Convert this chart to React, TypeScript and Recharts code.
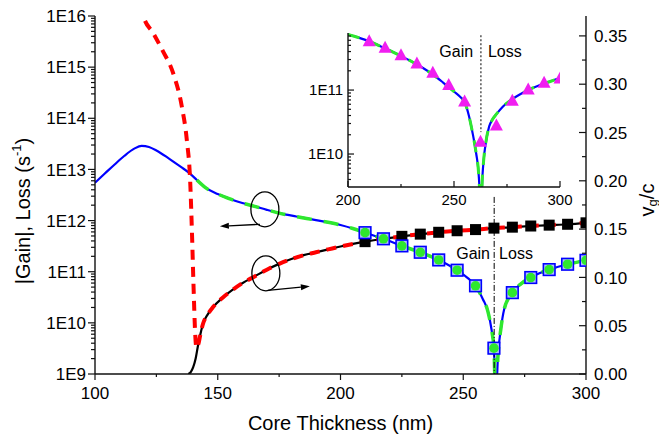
import React from "react";
import {
  LineChart,
  Line,
  XAxis,
  YAxis,
  ReferenceDot,
  ReferenceLine,
  Label,
} from "recharts";

const FONT = "'Liberation Sans', Arial, sans-serif";

// |gain| of the mode, left axis (log)
const gainX = [100, 104, 108, 112, 116, 119, 122, 125, 130, 135, 138.7, 141.5, 145, 150, 155, 160, 165, 170, 175, 182, 190, 200, 205, 210, 217.5, 225, 232.5, 240, 247.5, 252, 255, 258, 260, 261.5, 262.5, 263.2, 264.2, 265.3, 266.7, 270, 273.5, 277.5, 281, 285, 292.5, 300];
const gainY = [5.5e12, 8.3e12, 1.25e13, 1.85e13, 2.55e13, 2.9e13, 2.75e13, 2.35e13, 1.65e13, 1.12e13, 8.3e12, 6.2e12, 4.4e12, 3.3e12, 2.65e12, 2.2e12, 1.9e12, 1.62e12, 1.4e12, 1.2e12, 1.02e12, 8.2e11, 7e11, 5.8e11, 4.4e11, 3.2e11, 2.4e11, 1.7e11, 1.07e11, 7.4e10, 5.3e10, 2.9e10, 1.7e10, 7.5e9, 3.2e9, 3e8, 2.5e9, 7.5e9, 1.86e10, 3.9e10, 5.8e10, 7.7e10, 9.3e10, 1.1e11, 1.4e11, 1.67e11];
const greenFrom = 141.5;

// group velocity vg/c, right axis
const vgX = [138, 139, 140, 141, 142, 143, 144, 146, 148, 152, 156, 160, 165, 170, 175, 180, 185, 190, 195, 200, 210, 217.5, 225, 232.5, 240, 247.5, 255, 262.5, 270, 277.5, 285, 292.5, 300];
const vgV = [0, 0.002, 0.007, 0.016, 0.03, 0.042, 0.052, 0.062, 0.069, 0.079, 0.087, 0.094, 0.101, 0.108, 0.114, 0.119, 0.123, 0.126, 0.129, 0.132, 0.137, 0.14, 0.1425, 0.1448, 0.1467, 0.1483, 0.1495, 0.151, 0.152, 0.1532, 0.1541, 0.155, 0.1565];

// red dashed branch that diverges below cutoff
const redX = [117.5, 119.7, 123.7, 127.5, 131.8, 135.4, 137.4, 138.8, 139.5, 140.1, 140.8, 141.3];
const redV = [0.4, 0.3706, 0.353, 0.335, 0.3116, 0.2764, 0.2422, 0.1977, 0.146, 0.094, 0.0424, 0.027];

const markX = [210, 217.5, 225, 232.5, 240, 247.5, 255, 262.5, 270, 277.5, 285, 292.5, 300];

// inset
const insX = [200, 205, 210, 215, 220, 225, 230, 235, 240, 245, 250, 253, 255, 257, 258.8, 260.5, 261.6, 262.2, 262.7, 263.2, 264, 265, 266.6, 268, 270, 273, 277.5, 281, 285, 290, 295, 300];
const insY = [7.4e11, 6.6e11, 5.8e11, 4.9e11, 4.1e11, 3.4e11, 2.8e11, 2.25e11, 1.75e11, 1.3e11, 9.5e10, 7.8e10, 6.5e10, 4e10, 2.1e10, 1e10, 5e9, 2e9, 3e8, 3e9, 8e9, 1.5e10, 2.7e10, 3.4e10, 4.2e10, 5.5e10, 7.2e10, 8.5e10, 1e11, 1.18e11, 1.35e11, 1.55e11];
const triY = [5.8e11, 4.6e11, 3.5e11, 2.6e11, 1.86e11, 1.2e11, 6.6e10, 1.55e10, 2.8e10, 6.8e10, 1.02e11, 1.3e11, 1.52e11];

// axis ticks
const xMajor = [100, 150, 200, 250, 300];
const xTicks = [100, 125, 150, 175, 200, 225, 250, 275, 300];
const leftMajor = [1e9, 1e10, 1e11, 1e12, 1e13, 1e14, 1e15, 1e16];
const rightMajor = [0, 0.05, 0.1, 0.15, 0.2, 0.25, 0.3, 0.35];
const rightTicks = [0, 0.025, 0.05, 0.075, 0.1, 0.125, 0.15, 0.175, 0.2, 0.225, 0.25, 0.275, 0.3, 0.325, 0.35];
const insXMajor = [200, 250, 300];
const insXTicks = [200, 225, 250, 275, 300];
const insMajor = [1e10, 1e11];

const logMinors = (majors: number[], lo: number, hi: number) => {
  const out: number[] = [];
  majors.concat([majors[0] / 10]).forEach((m) => {
    for (let k = 1; k <= 9; k++) {
      const v = m * k;
      if (v >= lo * 0.999 && v <= hi * 1.001) out.push(v);
    }
  });
  return out.sort((a, b) => a - b);
};

const pts = (xs: number[], ys: number[]) => xs.map((x, i) => ({ x, y: ys[i] }));
const gainData = pts(gainX, gainY);
const greenData = gainData.filter((d) => d.x >= greenFrom);
const vgData = pts(vgX, vgV);
const redData = pts(redX, redV).concat(vgData.filter((d) => d.x >= 142));
const gainMarks = gainData.filter((d) => markX.includes(d.x));
const vgMarks = vgData.filter((d) => markX.includes(d.x));
const insData = pts(insX, insY);
const triData = pts(markX, triY);

const INS_LO = 3.05e9;
const INS_HI = 7.8e11;

const BLUE = "#0000ff";
const GREEN = "#2ee82e";
const RED = "#ff0000";
const MAGENTA = "#f01ef0";

const near = (a: number, list: number[]) => list.some((m) => Math.abs(m - a) < Math.abs(m) * 1e-6 + 1e-9);
const expFmt = (v: number) => "1E" + Math.round(Math.log10(v));

type TickOpts = {
  side: "left" | "right" | "top" | "bottom";
  majors: number[];
  fmt?: (v: number) => string;
  inward: boolean;
  maj: number;
  min: number;
  gap: number;
  size: number;
};

// draws tick mark + label from the axis line point (tickSize/tickMargin are 0)
const makeTick = (o: TickOpts) => (p: any) => {
  const { x, y, payload } = p;
  const v = payload.value;
  const major = near(v, o.majors);
  const len = major ? o.maj : o.min;
  const s = o.inward ? 1 : -1;
  let x2 = x;
  let y2 = y;
  if (o.side === "left") x2 = x + s * len;
  if (o.side === "right") x2 = x - s * len;
  if (o.side === "bottom") y2 = y - s * len;
  if (o.side === "top") y2 = y + s * len;
  let label = null;
  if (major && o.fmt) {
    const common = { fontSize: o.size, fontFamily: FONT, fill: "#000" };
    if (o.side === "left")
      label = <text x={x - o.gap} y={y} dy="0.36em" textAnchor="end" {...common}>{o.fmt(v)}</text>;
    if (o.side === "right")
      label = <text x={x + o.gap} y={y} dy="0.36em" textAnchor="start" {...common}>{o.fmt(v)}</text>;
    if (o.side === "bottom")
      label = <text x={x} y={y + o.gap} dy="0.36em" textAnchor="middle" {...common}>{o.fmt(v)}</text>;
  }
  return (
    <g>
      <line x1={x} y1={y} x2={x2} y2={y2} stroke="#111" strokeWidth={1.2} />
      {label}
    </g>
  );
};

const axisLine = { stroke: "#111", strokeWidth: 1.4 };

const Lasso = (p: any) => {
  const { cx, cy, fx, fy, tx, ty } = p;
  const x1 = cx + fx;
  const y1 = cy + fy;
  const x2 = cx + tx;
  const y2 = cy + ty;
  const a = Math.atan2(y2 - y1, x2 - x1);
  const hx = x2 - 9 * Math.cos(a);
  const hy = y2 - 9 * Math.sin(a);
  const px = 3 * Math.sin(a);
  const py = -3 * Math.cos(a);
  return (
    <g>
      <ellipse cx={cx} cy={cy} rx={14} ry={17.5} fill="none" stroke="#000" strokeWidth={1.3} />
      <line x1={x1} y1={y1} x2={hx} y2={hy} stroke="#000" strokeWidth={1.3} />
      <polygon points={`${x2},${y2} ${hx + px},${hy + py} ${hx - px},${hy - py}`} fill="#000" />
    </g>
  );
};

const Word = (p: any) => (
  <text x={p.cx} y={p.cy} dy="0.36em" textAnchor={p.anchor} fontSize={16} fontFamily={FONT} fill="#000">
    {p.word}
  </text>
);

const gainDot = (p: any) => (
  <g key={`gm${p.index}`}>
    <rect x={p.cx - 5.8} y={p.cy - 5.8} width={11.6} height={11.6} fill="#b0bcff" stroke={BLUE} strokeWidth={1.6} />
    <circle cx={p.cx} cy={p.cy} r={4.8} fill={GREEN} />
  </g>
);

const vgDot = (p: any) => (
  <rect key={`vm${p.index}`} x={p.cx - 5.5} y={p.cy - 5.5} width={11} height={11} fill="#000" />
);

const triDot = (p: any) => (
  <polygon
    key={`tr${p.index}`}
    points={`${p.cx},${p.cy - 7} ${p.cx - 6.5},${p.cy + 5} ${p.cx + 6.5},${p.cy + 5}`}
    fill={MAGENTA}
  />
);

function Inset() {
  const insTicks = logMinors(insMajor, INS_LO, INS_HI);
  return (
    <div style={{ position: "absolute", left: 290, top: 17 }}>
      <LineChart width={300} height={200} margin={{ top: 16, right: 30, bottom: 0, left: 0 }}>
        <XAxis type="number" dataKey="x" domain={[200, 300]} ticks={insXTicks} interval={0} allowDataOverflow height={30}
          tickSize={0} tickMargin={0} tickLine={false} axisLine={axisLine}
          tick={makeTick({ side: "bottom", majors: insXMajor, fmt: String, inward: true, maj: 6, min: 3, gap: 13, size: 15 })} />
        <XAxis xAxisId="top" orientation="top" type="number" dataKey="x" domain={[200, 300]} ticks={insXTicks} interval={0} allowDataOverflow height={0}
          tickSize={0} tickMargin={0} tickLine={false} axisLine={axisLine}
          tick={makeTick({ side: "top", majors: insXMajor, inward: true, maj: 6, min: 3, gap: 0, size: 15 })} />
        <YAxis yAxisId="l" scale="log" type="number" domain={[INS_LO, INS_HI]} ticks={insTicks} interval={0} allowDataOverflow width={58}
          tickSize={0} tickMargin={0} tickLine={false} axisLine={axisLine}
          tick={makeTick({ side: "left", majors: insMajor, fmt: expFmt, inward: true, maj: 6, min: 3, gap: 5, size: 15 })} />
        <YAxis yAxisId="r" orientation="right" scale="log" type="number" domain={[INS_LO, INS_HI]} ticks={insTicks} interval={0} allowDataOverflow width={0}
          tickSize={0} tickMargin={0} tickLine={false} axisLine={axisLine}
          tick={makeTick({ side: "right", majors: insMajor, inward: true, maj: 6, min: 3, gap: 0, size: 15 })} />
        <Line yAxisId="l" data={insData} dataKey="y" type="monotone" stroke={BLUE} strokeWidth={2.2} dot={false} activeDot={false} isAnimationActive={false} />
        <Line yAxisId="l" data={insData} dataKey="y" type="monotone" stroke={GREEN} strokeWidth={3} strokeDasharray="12 10" dot={false} activeDot={false} isAnimationActive={false} />
        <Line yAxisId="l" data={triData} dataKey="y" stroke="none" dot={triDot} activeDot={false} isAnimationActive={false} />
        <ReferenceLine yAxisId="l" segment={[{ x: 262.7, y: 7.2e11 }, { x: 262.7, y: 2.2e10 }]} stroke="#000" strokeWidth={1} strokeDasharray="2 2" />
        <ReferenceDot yAxisId="l" x={259} y={4e11} r={0} shape={(p: any) => <Word {...p} word="Gain" anchor="end" />} />
        <ReferenceDot yAxisId="l" x={266} y={4e11} r={0} shape={(p: any) => <Word {...p} word="Loss" anchor="start" />} />
      </LineChart>
    </div>
  );
}

export default function App() {
  const leftTicks = logMinors(leftMajor, 1e9, 1e16);
  return (
    <div style={{ position: "absolute", left: 0, top: 0, width: 659, height: 437, background: "#fff" }}>
      <LineChart width={659} height={437} margin={{ top: 16, right: 13, bottom: 23, left: 20 }}>
        <XAxis type="number" dataKey="x" domain={[100, 300]} ticks={xTicks} interval={0} allowDataOverflow height={40}
          tickSize={0} tickMargin={0} tickLine={false} axisLine={axisLine}
          tick={makeTick({ side: "bottom", majors: xMajor, fmt: String, inward: false, maj: 6, min: 3, gap: 19, size: 17 })}>
          <Label content={(p: any) => {
            const vb = p.viewBox;
            return (
              <text x={vb.x + vb.width / 2} y={vb.y + 49} dy="0.36em" textAnchor="middle" fontSize={20} fontFamily={FONT} fill="#000">
                Core Thickness (nm)
              </text>
            );
          }} />
        </XAxis>
        <XAxis xAxisId="top" orientation="top" type="number" dataKey="x" domain={[100, 300]} ticks={xTicks} interval={0} allowDataOverflow height={0}
          tickSize={0} tickMargin={0} tickLine={false} axisLine={axisLine}
          tick={makeTick({ side: "top", majors: xMajor, inward: true, maj: 7, min: 4, gap: 0, size: 17 })} />
        <YAxis yAxisId="left" scale="log" type="number" domain={[1e9, 1e16]} ticks={leftTicks} interval={0} allowDataOverflow width={75}
          tickSize={0} tickMargin={0} tickLine={false} axisLine={axisLine}
          tick={makeTick({ side: "left", majors: leftMajor, fmt: expFmt, inward: false, maj: 7, min: 4, gap: 9, size: 17 })}>
          <Label content={(p: any) => {
            const vb = p.viewBox;
            const cx = vb.x + 3;
            const cy = vb.y + vb.height / 2 + 16;
            return (
              <text x={cx} y={cy} transform={`rotate(-90 ${cx} ${cy})`} textAnchor="middle" dominantBaseline="central" fontSize={20} fontFamily={FONT} fill="#000">
                |Gain|, Loss (s<tspan dy={-7} fontSize={13}>-1</tspan><tspan dy={7}>)</tspan>
              </text>
            );
          }} />
        </YAxis>
        <YAxis yAxisId="right" orientation="right" type="number" domain={[0, 0.3706]} ticks={rightTicks} interval={0} allowDataOverflow width={60}
          tickSize={0} tickMargin={0} tickLine={false} axisLine={axisLine}
          tick={makeTick({ side: "right", majors: rightMajor, fmt: (v) => v.toFixed(2), inward: true, maj: 7, min: 4, gap: 8, size: 17 })}>
          <Label content={(p: any) => {
            const vb = p.viewBox;
            const cx = vb.x + 61;
            const cy = vb.y + vb.height / 2 + 5;
            return (
              <text x={cx} y={cy} transform={`rotate(-90 ${cx} ${cy})`} textAnchor="middle" dominantBaseline="central" fontSize={20} fontFamily={FONT} fill="#000">
                v<tspan dy={5} fontSize={13}>g</tspan><tspan dy={-5}>/c</tspan>
              </text>
            );
          }} />
        </YAxis>

        <Line yAxisId="left" data={gainData} dataKey="y" type="monotone" stroke={BLUE} strokeWidth={2.2} dot={false} activeDot={false} isAnimationActive={false} />
        <Line yAxisId="left" data={greenData} dataKey="y" type="monotone" stroke={GREEN} strokeWidth={3.5} strokeDasharray="15 12" dot={false} activeDot={false} isAnimationActive={false} />
        <Line yAxisId="right" data={vgData} dataKey="y" type="monotone" stroke="#000" strokeWidth={2.2} dot={false} activeDot={false} isAnimationActive={false} />
        <Line yAxisId="right" data={vgMarks} dataKey="y" stroke="none" dot={vgDot} activeDot={false} isAnimationActive={false} />
        <Line yAxisId="right" data={redData} dataKey="y" type="monotone" stroke={RED} strokeWidth={4} strokeDasharray="10 7" dot={false} activeDot={false} isAnimationActive={false} />
        <Line yAxisId="left" data={gainMarks} dataKey="y" stroke="none" dot={gainDot} activeDot={false} isAnimationActive={false} />

        <ReferenceLine yAxisId="left" segment={[{ x: 262.6, y: 2.9e12 }, { x: 262.6, y: 1e9 }]} stroke="#000" strokeWidth={1} strokeDasharray="6 2 1 2" />
        <ReferenceDot yAxisId="left" x={260.9} y={2.3e11} r={0} shape={(p: any) => <Word {...p} word="Gain" anchor="end" />} />
        <ReferenceDot yAxisId="left" x={264.6} y={2.3e11} r={0} shape={(p: any) => <Word {...p} word="Loss" anchor="start" />} />
        <ReferenceDot yAxisId="left" x={169.2} y={1.66e12} r={0} shape={(p: any) => <Lasso {...p} fx={-5} fy={15} tx={-45} ty={17} />} />
        <ReferenceDot yAxisId="right" x={169.6} y={0.1042} r={0} shape={(p: any) => <Lasso {...p} fx={2} fy={17} tx={44} ty={13} />} />
      </LineChart>
      <Inset />
    </div>
  );
}
